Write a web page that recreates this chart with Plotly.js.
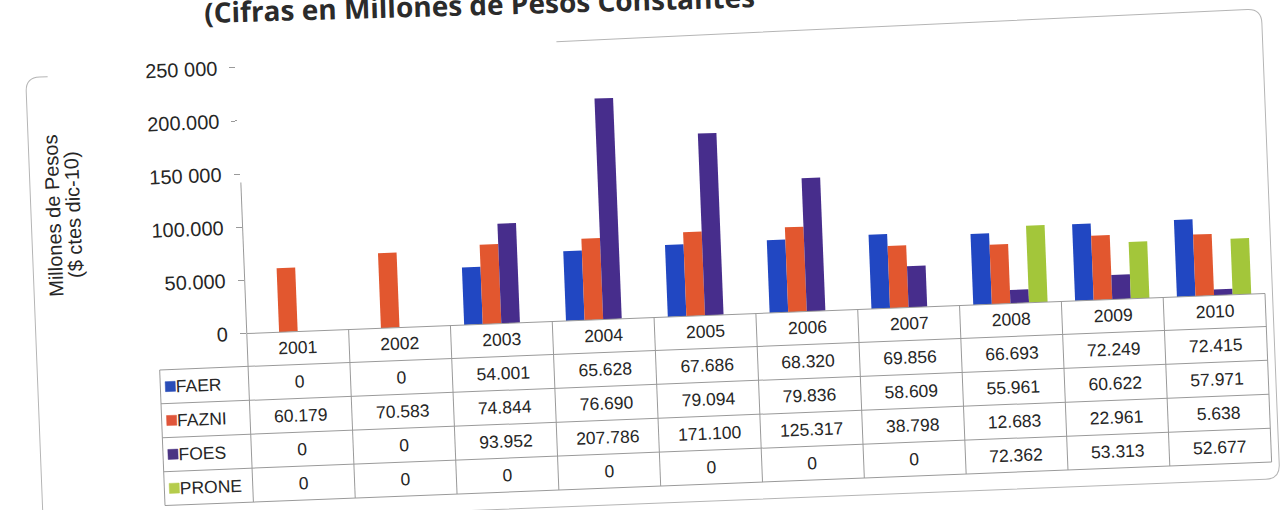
<!DOCTYPE html>
<html>
<head>
<meta charset="utf-8">
<script src="https://cdn.plot.ly/plotly-3.0.1.min.js"></script>
<style>
html,body{margin:0;padding:0;background:#fff;overflow:hidden;width:1281px;height:510px;}
#chart{position:absolute;left:0;top:-30px;width:1281px;height:570px;transform:rotate(-2.25deg);transform-origin:50% 50%;}
</style>
</head>
<body>
<div id="chart"></div>
<script>
// ---- data ----
const years = ['2001','2002','2003','2004','2005','2006','2007','2008','2009','2010'];
const seriesNames = ['FAER','FAZNI','FOES','PRONE'];
const faer  = [0,0,54001,65628,67686,68320,69856,66693,72249,72415];
const fazni = [60179,70583,74844,76690,79094,79836,58609,55961,60622,57971];
const foes  = [0,0,93952,207786,171100,125317,38798,12683,22961,5638];
const prone = [0,0,0,0,0,0,0,72362,53313,52677];
const yTickVals = [0,50000,100000,150000,200000,250000];
const yTickText = ['0','50.000','100.000','150 000','200.000','250 000'];
const titleText = '(Cifras en Millones de Pesos Constantes';
const yTitleLines = ['Millones de Pesos','($ ctes dic-10)'];

// ---- styles ----
const colors = ['#2147c2','#e2572f','#472d8c','#a3c63a'];
const keyColors = ['#2a4db8','#e0553a','#4b3483','#b5cc4c'];
const seriesValues = [faer, fazni, foes, prone];
const baseFont = 'Liberation Sans, Arial, sans-serif';
const tableFont = 'Liberation Sans, Arial, sans-serif';
const tableSize = 17.5;
const txtColor = '#262626';
const lineColor = '#9a9a9a';

// ---- geometry (pixels inside the div) ----
const W = 1281, H = 570;
const M = {l:244, r:17.5, t:81.5, b:222};
const PW = W - M.l - M.r, PH = H - M.t - M.b;
const px = x => (x - M.l) / PW;
const py = y => (H - M.b - y) / PH;
const xRange = [-0.5, years.length - 0.5];
const catEdge = i => (i - 0.5 - xRange[0]) / (xRange[1] - xRange[0]);
const catCenter = i => (i - xRange[0]) / (xRange[1] - xRange[0]);
const rowEdges = [348, 381, 415, 449, 483, 517];
const rowCenter = r => (rowEdges[r] + rowEdges[r+1]) / 2;
const tableLeft = 155.5;

const fmt = v => v === 0 ? '0' : String(v).replace(/\B(?=(\d{3})+(?!\d))/g, '.');

// ---- traces ----
const traces = seriesNames.map((name, k) => ({
  type: 'bar', name: name, x: years, y: seriesValues[k],
  marker: {color: colors[k], line: {width: 0}},
  showlegend: false, hoverinfo: 'x+y+name'
}));

// ---- shapes ----
const shapes = [];
const L = (x0,y0,x1,y1) => ({type:'line', xref:'paper', yref:'paper', x0:x0, y0:y0, x1:x1, y1:y1,
  line:{color:lineColor, width:1}, layer:'above'});
shapes.push(L(0, py(rowEdges[0]), 1, py(rowEdges[0])));
for (let r = 1; r < rowEdges.length; r++) shapes.push(L(px(tableLeft), py(rowEdges[r]), 1, py(rowEdges[r])));
for (let i = 0; i <= years.length; i++) shapes.push(L(catEdge(i), py(rowEdges[0]), catEdge(i), py(rowEdges[rowEdges.length-1])));
shapes.push(L(px(tableLeft), py(rowEdges[1]), px(tableLeft), py(rowEdges[rowEdges.length-1])));
shapes.push({type:'line', xref:'paper', yref:'y', x0:0, x1:0, y0:0, y1:142000, line:{color:lineColor, width:1}});
seriesNames.forEach((n, k) => {
  const c = rowCenter(k+1);
  shapes.push({type:'rect', xref:'paper', yref:'paper', x0:px(160.5), x1:px(170.5), y0:py(c+5), y1:py(c-5),
    fillcolor:keyColors[k], line:{color:keyColors[k], width:0.5}});
});
const P = (x,y) => px(x).toFixed(5) + ',' + py(y).toFixed(5);
const frameA = 'M' + P(33,600) + ' L' + P(33,97) + ' Q' + P(33,83) + ' ' + P(47,83) + ' L' + P(55,83);
const frameB = 'M' + P(565,68) + ' L' + P(1257,63) + ' Q' + P(1271,63) + ' ' + P(1271,77) +
  ' L' + P(1271,520) + ' Q' + P(1271,534) + ' ' + P(1257,534) + ' L' + P(10,534);
shapes.push({type:'path', xref:'paper', yref:'paper', path:frameA, line:{color:'#b5b5b5', width:1}});
shapes.push({type:'path', xref:'paper', yref:'paper', path:frameB, line:{color:'#b5b5b5', width:1}});

// ---- annotations ----
const annotations = [];
annotations.push({xref:'paper', yref:'paper', x:px(212), y:py(51), xanchor:'left', yanchor:'bottom', textangle:0.6,
  text:'<b>' + titleText + '</b>', showarrow:false, font:{family:'Open Sans, sans-serif', size:28, color:'#2b2b2b'}});
yTitleLines.forEach((t, i) => annotations.push({xref:'paper', yref:'paper', x:px(55 + 20*i), y:py(222.5),
  xanchor:'center', yanchor:'middle', textangle:-90, text:t, showarrow:false,
  font:{family:baseFont, size:20, color:txtColor}}));
years.forEach((yr, j) => annotations.push({xref:'paper', yref:'paper', x:catCenter(j), y:py(rowCenter(0)),
  xanchor:'center', yanchor:'middle', text:yr, showarrow:false, font:{family:tableFont, size:tableSize, color:txtColor}}));
seriesNames.forEach((n, k) => {
  annotations.push({xref:'paper', yref:'paper', x:px(169), y:py(rowCenter(k+1)), xanchor:'left', yanchor:'middle',
    text:n, showarrow:false, font:{family:tableFont, size:tableSize, color:txtColor}});
  years.forEach((yr, j) => annotations.push({xref:'paper', yref:'paper', x:catCenter(j), y:py(rowCenter(k+1)),
    xanchor:'center', yanchor:'middle', text:fmt(seriesValues[k][j]), showarrow:false,
    font:{family:tableFont, size:tableSize, color:txtColor}}));
});

const layout = {
  width: W, height: H,
  margin: M,
  paper_bgcolor: '#ffffff', plot_bgcolor: '#ffffff',
  barmode: 'group', bargap: 0.27, bargroupgap: 0,
  showlegend: false,
  xaxis: {type:'category', range:xRange, showticklabels:false, ticks:'', showline:false, showgrid:false, zeroline:false, fixedrange:true},
  yaxis: {range:[0,250000], tickvals:yTickVals, ticktext:yTickText, ticks:'outside', ticklen:6, tickwidth:1, tickcolor:lineColor,
    ticklabelstandoff:8, showline:false, showgrid:false, zeroline:false, fixedrange:true,
    tickfont:{family:baseFont, size:20, color:txtColor}},
  shapes: shapes,
  annotations: annotations
};

Plotly.newPlot('chart', traces, layout, {displayModeBar:false, staticPlot:true});
</script>
</body>
</html>
